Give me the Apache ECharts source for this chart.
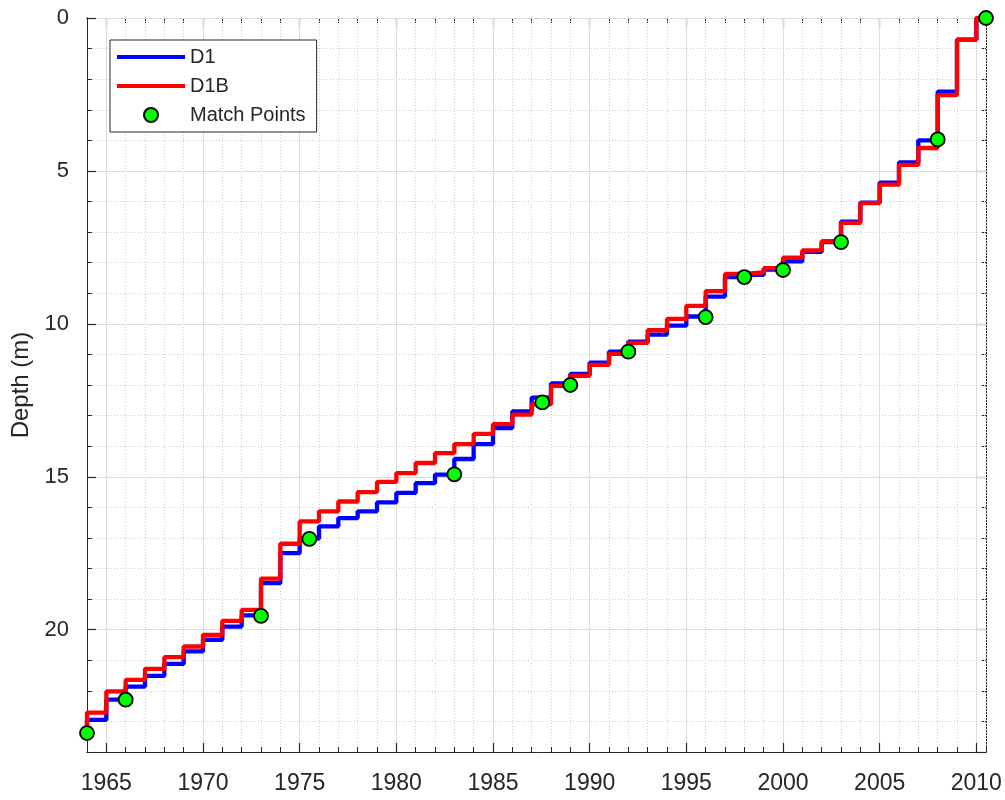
<!DOCTYPE html>
<html>
<head>
<meta charset="utf-8">
<script src="https://cdn.jsdelivr.net/npm/echarts@6/dist/echarts.min.js"></script>
<style>
  html, body { margin: 0; padding: 0; background: #ffffff; }
  #chart { width: 1005px; height: 800px; }
</style>
</head>
<body>
<div id="chart"></div>
<script>
// Annual layer boundaries (year at which each horizontal step starts)
const years = [1964, 1965, 1966, 1967, 1968, 1969, 1970, 1971, 1972, 1973,
  1974, 1975, 1976, 1977, 1978, 1979, 1980, 1981, 1982, 1983,
  1984, 1985, 1986, 1987, 1988, 1989, 1990, 1991, 1992, 1993,
  1994, 1995, 1996, 1997, 1998, 1999, 2000, 2001, 2002, 2003,
  2004, 2005, 2006, 2007, 2008, 2009, 2010];

// Depth (m) of each annual step, core D1
const depthD1 = [22.95, 22.29, 21.86, 21.51, 21.12, 20.71, 20.33, 19.90, 19.53, 18.48,
  17.50, 17.02, 16.62, 16.35, 16.13, 15.84, 15.53, 15.21, 14.93, 14.42,
  13.93, 13.41, 12.86, 12.41, 11.95, 11.64, 11.27, 10.91, 10.58, 10.35,
  10.06, 9.76, 9.11, 8.47, 8.40, 8.23, 7.96, 7.65, 7.33, 6.66,
  6.04, 5.38, 4.72, 4.00, 2.41, 0.71, 0];

// Depth (m) of each annual step, core D1B
const depthD1B = [22.71, 22.02, 21.64, 21.28, 20.90, 20.55, 20.17, 19.71, 19.35, 18.33,
  17.19, 16.46, 16.13, 15.81, 15.50, 15.17, 14.88, 14.55, 14.23, 13.93,
  13.60, 13.28, 12.97, 12.63, 12.03, 11.70, 11.34, 10.98, 10.62, 10.21,
  9.84, 9.41, 8.93, 8.37, 8.32, 8.18, 7.84, 7.60, 7.30, 6.70,
  6.05, 5.45, 4.80, 4.25, 2.52, 0.71, 0];

// Record start (bottom) and end (surface)
const startYear = 1964;
const startDepth = 23.38;
const endYear = 2010.5;
const endDepth = 0;

// Tie points between the two records
const matchYears = [1964, 1966, 1973, 1975.5, 1983, 1987.55, 1989, 1992, 1996, 1998, 2000, 2003, 2008, 2010.5];
const matchDepths = [23.38, 22.29, 19.55, 17.03, 14.92, 12.57, 12.0, 10.91, 9.78, 8.47, 8.24, 7.33, 3.97, 0];

// Axis tick values
const xMajorTicks = [1965, 1970, 1975, 1980, 1985, 1990, 1995, 2000, 2005, 2010];
const xMin = 1964, xMax = 2010.5;
const yMin = 0, yMax = 24;

function stepData(depths) {
  const out = [[startYear, startDepth]];
  years.forEach((y, i) => out.push([y, depths[i]]));
  out.push([endYear, endDepth]);
  return out;
}

const FONT = '"Liberation Sans", Arial, Helvetica, sans-serif';
const INK = '#262626';
const MAJOR_GRID = '#dcdcdc';
const MINOR_GRID = '#cdcdcd';

const baseX = {
  type: 'value', gridIndex: 0, min: xMin, max: xMax,
  axisLine: { show: true, onZero: false, lineStyle: { color: INK, width: 1 } }
};
const baseY = {
  type: 'value', gridIndex: 0, min: yMin, max: yMax, inverse: true,
  axisLine: { show: true, onZero: false, lineStyle: { color: INK, width: 1 } }
};

const chart = echarts.init(document.getElementById('chart'), null, { renderer: 'canvas' });

chart.setOption({
  animation: false,
  backgroundColor: '#ffffff',
  textStyle: { fontFamily: FONT },
  grid: { left: 87, right: 19, top: 18, bottom: 48, containLabel: false },
  xAxis: [
    // bottom, major ticks + labels + major grid
    Object.assign({}, baseX, {
      position: 'bottom',
      axisTick: { show: true, inside: true, length: 9, lineStyle: { color: INK, width: 1.2 }, customValues: xMajorTicks },
      axisLabel: { show: true, customValues: xMajorTicks, margin: 20, color: INK, fontSize: 23, fontFamily: FONT,
        hideOverlap: false, alignMinLabel: 'center', alignMaxLabel: 'center', formatter: v => String(v) },
      splitLine: { show: true, lineStyle: { color: MAJOR_GRID, width: 1, type: 'solid' } },
      z: 3
    }),
    // bottom, yearly ticks + minor grid
    Object.assign({}, baseX, {
      position: 'bottom', interval: 1,
      axisTick: { show: true, inside: true, length: 5, lineStyle: { color: INK, width: 1 } },
      axisLabel: { show: false },
      splitLine: { show: true, lineStyle: { color: MINOR_GRID, width: 1, type: [1, 2] } },
      z: 2
    }),
    // top, major ticks
    Object.assign({}, baseX, {
      position: 'top',
      axisTick: { show: true, inside: true, length: 9, lineStyle: { color: INK, width: 1.2 }, customValues: xMajorTicks },
      axisLabel: { show: false },
      splitLine: { show: false }
    }),
    // top, yearly ticks
    Object.assign({}, baseX, {
      position: 'top', interval: 1,
      axisTick: { show: true, inside: true, length: 5, lineStyle: { color: INK, width: 1 } },
      axisLabel: { show: false },
      splitLine: { show: false }
    })
  ],
  yAxis: [
    // left, major ticks + labels + major grid + title
    Object.assign({}, baseY, {
      position: 'left', interval: 5,
      name: 'Depth (m)', nameLocation: 'middle', nameGap: 52,
      nameTextStyle: { color: INK, fontSize: 24, fontFamily: FONT },
      axisTick: { show: true, inside: true, length: 9, lineStyle: { color: INK, width: 1.2 } },
      axisLabel: { show: true, margin: 18, color: INK, fontSize: 22, fontFamily: FONT, showMaxLabel: false },
      splitLine: { show: true, lineStyle: { color: MAJOR_GRID, width: 1, type: 'solid' } },
      z: 3
    }),
    // left, metre ticks + minor grid
    Object.assign({}, baseY, {
      position: 'left', interval: 1,
      axisTick: { show: true, inside: true, length: 5, lineStyle: { color: INK, width: 1 } },
      axisLabel: { show: false },
      splitLine: { show: true, lineStyle: { color: MINOR_GRID, width: 1, type: [1, 2] } },
      z: 2
    }),
    // right, major ticks
    Object.assign({}, baseY, {
      position: 'right', interval: 5,
      axisTick: { show: true, inside: true, length: 9, lineStyle: { color: INK, width: 1.2 } },
      axisLabel: { show: false },
      splitLine: { show: false }
    }),
    // right, metre ticks
    Object.assign({}, baseY, {
      position: 'right', interval: 1,
      axisTick: { show: true, inside: true, length: 5, lineStyle: { color: INK, width: 1 } },
      axisLabel: { show: false },
      splitLine: { show: false }
    })
  ],
  legend: {
    orient: 'vertical',
    left: 110, top: 40,
    padding: [7, 11, 7, 7],
    itemWidth: 68, itemHeight: 14, itemGap: 9,
    backgroundColor: '#ffffff',
    borderColor: INK, borderWidth: 1, borderRadius: 0,
    textStyle: { color: INK, fontSize: 20, fontFamily: FONT },
    selectedMode: false,
    z: 10,
    data: [
      { name: 'D1', icon: 'path://M0,0H68V4H0Z', itemStyle: { borderWidth: 0 } },
      { name: 'D1B', icon: 'path://M0,0H68V4H0Z', itemStyle: { borderWidth: 0 } },
      { name: 'Match Points' }
    ]
  },
  series: [
    {
      name: 'D1', type: 'line', step: 'end',
      xAxisIndex: 0, yAxisIndex: 0,
      data: stepData(depthD1),
      symbol: 'none', showSymbol: false,
      color: '#0000ff',
      lineStyle: { color: '#0000ff', width: 4.3 },
      z: 4
    },
    {
      name: 'D1B', type: 'line', step: 'end',
      xAxisIndex: 0, yAxisIndex: 0,
      data: stepData(depthD1B),
      symbol: 'none', showSymbol: false,
      color: '#ff0000',
      lineStyle: { color: '#ff0000', width: 4.3 },
      z: 5
    },
    {
      name: 'Match Points', type: 'scatter',
      xAxisIndex: 0, yAxisIndex: 0,
      data: matchYears.map((y, i) => [y, matchDepths[i]]),
      symbol: 'circle', symbolSize: 14,
      clip: false,
      itemStyle: { color: '#00ff00', borderColor: '#000000', borderWidth: 1.8, opacity: 1 },
      z: 6
    }
  ]
});
</script>
</body>
</html>
